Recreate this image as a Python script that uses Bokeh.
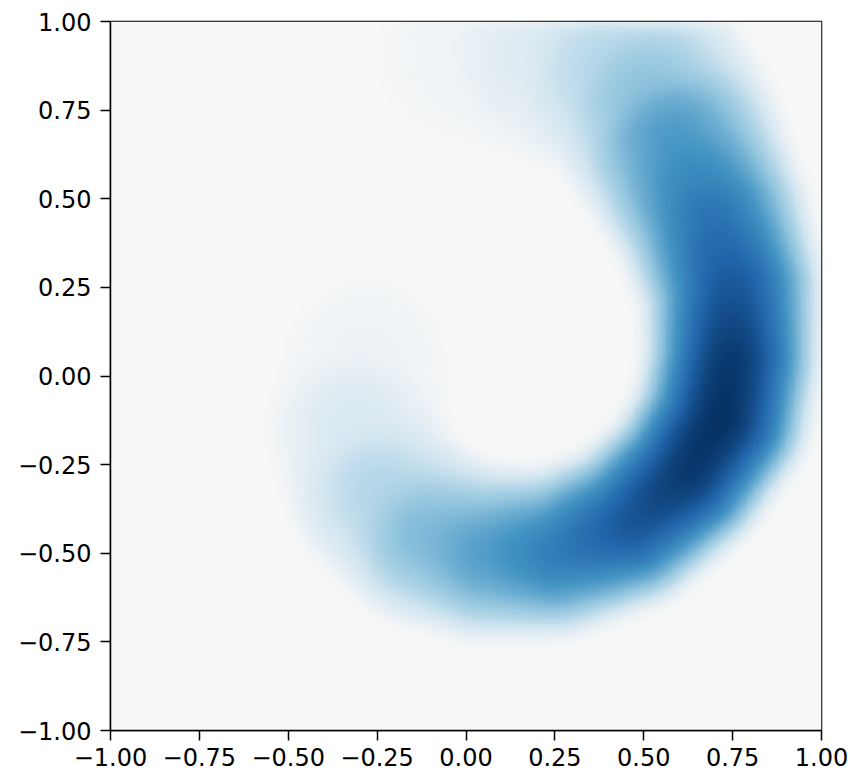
import numpy as np
from bokeh.plotting import figure
from bokeh.models import LinearColorMapper, FixedTicker
from bokeh.embed import file_html
from bokeh.resources import INLINE

# Ridge of the crescent-shaped density, from the top tail to the left tail
ridge_x = [0.02, 0.22, 0.42, 0.52, 0.59, 0.69, 0.75, 0.75, 0.72, 0.62, 0.46, 0.25, 0.05, -0.11, -0.24, -0.31, -0.28]
ridge_y = [0.92, 0.92, 0.86, 0.78, 0.66, 0.45, 0.25, 0.05, -0.12, -0.28, -0.42, -0.50, -0.50, -0.45, -0.33, -0.15, 0.05]
ridge_amp = [0.05, 0.14, 0.30, 0.42, 0.58, 0.74, 0.86, 0.97, 1.00, 0.97, 0.86, 0.70, 0.56, 0.45, 0.30, 0.16, 0.06]
ridge_halfwidth = [0.30, 0.32, 0.33, 0.33, 0.32, 0.29, 0.27, 0.26, 0.26, 0.25, 0.25, 0.25, 0.26, 0.27, 0.27, 0.26, 0.25]

tick_values = [-1.0, -0.75, -0.5, -0.25, 0.0, 0.25, 0.5, 0.75, 1.0]
tick_labels = ["\u22121.00", "\u22120.75", "\u22120.50", "\u22120.25", "0.00", "0.25", "0.50", "0.75", "1.00"]

# RdBu colormap (upper, blue half: centre -> dark blue)
rdbu_upper = ["#f7f7f7", "#d1e5f0", "#92c5de", "#4393c3", "#2166ac", "#053061"]

def build_palette(anchors, n=256):
    rgb = np.array([[int(c[i:i + 2], 16) for i in (1, 3, 5)] for c in anchors], dtype=float)
    pos = np.linspace(0, 1, len(anchors))
    out = []
    for v in np.linspace(0, 1, n):
        r = np.interp(v, pos, rgb[:, 0]); g = np.interp(v, pos, rgb[:, 1]); b = np.interp(v, pos, rgb[:, 2])
        out.append("#%02x%02x%02x" % (int(round(r)), int(round(g)), int(round(b))))
    return out

palette = build_palette(rdbu_upper)

# Render the density as a soft tube around the ridge
N = 400
g = np.linspace(-1, 1, N)
X, Y = np.meshgrid(g, g)
dens = np.zeros_like(X)
rx = np.array(ridge_x); ry = np.array(ridge_y)
ra = np.array(ridge_amp); rw = np.array(ridge_halfwidth)
for i in range(len(rx) - 1):
    ax_, ay_ = rx[i], ry[i]
    dx, dy = rx[i + 1] - ax_, ry[i + 1] - ay_
    L2 = dx * dx + dy * dy
    t = np.clip(((X - ax_) * dx + (Y - ay_) * dy) / L2, 0, 1)
    d2 = (X - (ax_ + t * dx)) ** 2 + (Y - (ay_ + t * dy)) ** 2
    amp = ra[i] + t * (ra[i + 1] - ra[i])
    w = rw[i] + t * (rw[i + 1] - rw[i])
    val = amp * np.clip(1 - d2 / (w * w), 0, None)
    dens = np.maximum(dens, val)

# light smoothing of the rendered image
k = np.exp(-0.5 * (np.arange(-12, 13) / 4.0) ** 2)
k /= k.sum()
dens = np.apply_along_axis(lambda r: np.convolve(r, k, mode="same"), 1, dens)
dens = np.apply_along_axis(lambda c: np.convolve(c, k, mode="same"), 0, dens)

mapper = LinearColorMapper(palette=palette, low=0.0, high=1.0)

p = figure(width=848, height=771, x_range=(-1, 1), y_range=(-1, 1),
           output_backend="svg", toolbar_location=None,
           min_border_left=110, min_border_right=27, min_border_top=21, min_border_bottom=41)
p.image(image=[dens], x=-1, y=-1, dw=2, dh=2, color_mapper=mapper)

p.grid.visible = False
p.background_fill_color = "#f7f7f7"
p.border_fill_color = "white"
p.outline_line_color = "black"
p.outline_line_width = 1.5
p.outline_line_alpha = 1.0

for ax in (p.xaxis[0], p.yaxis[0]):
    ax.ticker = FixedTicker(ticks=tick_values)
    ax.major_label_overrides = {v: s for v, s in zip(tick_values, tick_labels)}
    ax.major_label_text_font = "DejaVu Sans"
    ax.major_label_text_font_size = "24px"
    ax.major_label_text_color = "black"
    ax.axis_line_width = 1.5
    ax.axis_line_color = "black"
    ax.major_tick_line_width = 1.5
    ax.major_tick_line_color = "black"
    ax.major_tick_out = 10
    ax.major_tick_in = 0
    ax.minor_tick_line_color = None
p.xaxis.major_label_standoff = 7
p.yaxis.major_label_standoff = 9

open("out.html", "w").write(file_html(p, INLINE))
